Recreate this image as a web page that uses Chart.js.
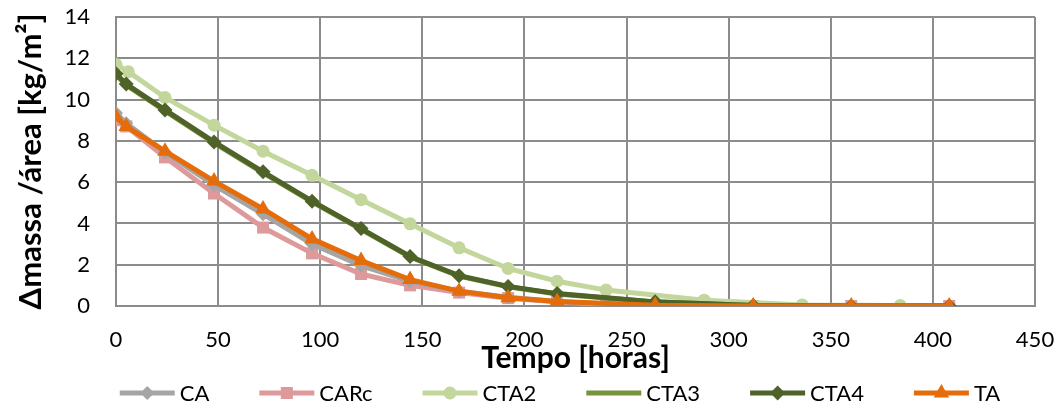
<!DOCTYPE html>
<html>
<head>
<meta charset="utf-8">
<script src="https://cdn.jsdelivr.net/npm/chart.js@4.4.1/dist/chart.umd.min.js"></script>
<style>
  html, body { margin: 0; padding: 0; background: #fff; }
  #wrap { width: 1062px; height: 416px; }
</style>
</head>
<body>
<div id="wrap"><canvas id="massChart" width="1062" height="416"></canvas></div>
<script>
// sampling times (hours) for each group of series
const horasCA = [0, 5, 24, 48, 72, 96, 120, 144, 168, 192, 216, 240, 264, 312, 360, 408];
const horasCTA2 = [0, 6, 24, 48, 72, 96, 120, 144, 168, 192, 216, 240, 288, 336, 384];
const horasCTA = [0, 5, 24, 48, 72, 96, 120, 144, 168, 192, 216, 264, 312, 360, 408];

// mass loss per area, kg/m2
const valCA = [9.35, 8.85, 7.45, 5.85, 4.45, 3.0, 1.95, 1.2, 0.72, 0.42, 0.22, 0.1, 0.04, 0, 0, 0];
const valCARc = [9.0, 8.7, 7.2, 5.45, 3.8, 2.55, 1.55, 1.0, 0.65, 0.38, 0.2, 0.08, 0.03, 0, 0, 0];
const valCTA2 = [11.7, 11.35, 10.1, 8.76, 7.5, 6.33, 5.15, 3.98, 2.82, 1.82, 1.2, 0.77, 0.28, 0.05, 0.02];
const valCTA3 = [11.2, 10.7, 9.45, 7.9, 6.45, 5.05, 3.72, 2.38, 1.45, 0.93, 0.58, 0.19, 0.02, 0, 0];
const valCTA4 = [11.25, 10.75, 9.5, 7.95, 6.5, 5.08, 3.75, 2.4, 1.47, 0.95, 0.6, 0.2, 0.02, 0, 0];
const valTA = [9.15, 8.7, 7.5, 6.05, 4.7, 3.25, 2.2, 1.28, 0.72, 0.4, 0.22, 0.04, 0, 0, 0];

const xTicks = [0, 50, 100, 150, 200, 250, 300, 350, 400, 450];
const yTicks = [0, 2, 4, 6, 8, 10, 12, 14];

const pts = (xs, ys) => xs.map((x, i) => ({ x: x, y: ys[i] }));

const FONT = 'Lato, "Open Sans", sans-serif';
const GRID = '#8c8c8c';

function serie(label, xs, ys, color, style, radius, order) {
    return {
        label: label,
        data: pts(xs, ys),
        borderColor: color,
        backgroundColor: color,
        pointBackgroundColor: color,
        pointBorderColor: color,
        pointBorderWidth: 0,
        pointStyle: style,
        pointRadius: radius,
        borderWidth: 5,
        tension: 0,
        order: order,
    };
}

const datasets = [
    serie('CA', horasCA, valCA, '#a5a5a5', 'rectRot', 7, 4),
    serie('CARc', horasCA, valCARc, '#de9a9a', 'rect', 8.5, 5),
    serie('CTA2', horasCTA2, valCTA2, '#c3d69b', 'circle', 6.5, 3),
    serie('CTA3', horasCTA, valCTA3, '#77933c', 'circle', 0, 2),
    serie('CTA4', horasCTA, valCTA4, '#4f6228', 'rectRot', 7.5, 1),
    serie('TA', horasCTA, valTA, '#e46c0a', 'triangle', 9, 0),
];

// legend row under the axis title: line + marker, then the name
const bottomLegend = {
    id: 'bottomLegend',
    afterDraw(chart) {
        const c = chart.ctx;
        const sw = 55, gapText = 5, gapItem = 50, y = 393;
        c.save();
        c.font = '22px ' + FONT;
        const items = chart.data.datasets.map(ds => ({ ds: ds, w: sw + gapText + c.measureText(ds.label).width }));
        const total = items.reduce((s, it) => s + it.w, 0) + gapItem * (items.length - 1);
        let x = 560 - total / 2;
        items.forEach(it => {
            const ds = it.ds;
            c.strokeStyle = ds.borderColor;
            c.lineWidth = 5;
            c.beginPath(); c.moveTo(x, y); c.lineTo(x + sw, y); c.stroke();
            if (ds.pointRadius > 0) {
                c.fillStyle = ds.borderColor;
                Chart.helpers.drawPoint(c, { pointStyle: ds.pointStyle, radius: ds.pointRadius, borderWidth: 0, rotation: 0 }, x + sw / 2, y);
            }
            c.fillStyle = '#000';
            c.textBaseline = 'middle';
            c.textAlign = 'left';
            c.fillText(ds.label, x + sw + gapText, y + 1);
            x += it.w + gapItem;
        });
        c.restore();
    },
};

// top and right edges of the plot frame
const frame = {
    id: 'frame',
    beforeDatasetsDraw(chart) {
        const a = chart.chartArea, c = chart.ctx;
        c.save();
        c.strokeStyle = GRID;
        c.lineWidth = 2;
        c.beginPath();
        c.moveTo(a.right, a.top); c.lineTo(a.right, a.bottom);
        c.moveTo(a.left, a.top); c.lineTo(a.right, a.top);
        c.stroke();
        c.restore();
    },
};

// no automatic room for overhanging tick labels
const noOverhang = s => { s.paddingTop = 0; s.paddingBottom = 0; s.paddingLeft = 0; s.paddingRight = 0; };

const ctx = document.getElementById('massChart').getContext('2d');
const massChart = new Chart(ctx, {
    type: 'line',
    data: { datasets: datasets },
    options: {
        responsive: false,
        animation: false,
        layout: { padding: { left: 10, right: 27, top: 17, bottom: 40 } },
        plugins: {
            tooltip: { enabled: false },
            legend: { display: false },
        },
        scales: {
            x: {
                type: 'linear',
                min: 0,
                max: 450,
                afterBuildTicks: s => { s.ticks = xTicks.map(v => ({ value: v })); },
                afterFit: s => { s.height = 70; noOverhang(s); },
                grid: { color: GRID, lineWidth: 2, drawTicks: false },
                border: { color: GRID, width: 2 },
                ticks: { color: '#000', padding: 21, autoSkip: false, maxRotation: 0, font: { family: FONT, size: 22 } },
                title: {
                    display: true,
                    text: 'Tempo [horas]',
                    color: '#000',
                    padding: { top: 0, bottom: 0 },
                    font: { family: FONT, size: 30, weight: 'bold' },
                },
            },
            y: {
                min: 0,
                max: 14,
                afterBuildTicks: s => { s.ticks = yTicks.map(v => ({ value: v })); },
                afterFit: s => { s.width = 106; noOverhang(s); },
                grid: { color: GRID, lineWidth: 2, drawTicks: false },
                border: { color: GRID, width: 2 },
                ticks: { color: '#000', padding: 26, autoSkip: false, font: { family: FONT, size: 22 } },
                title: {
                    display: true,
                    text: 'Δmassa /área [kg/m²]',
                    color: '#000',
                    padding: { top: 2, bottom: 0 },
                    font: { family: FONT, size: 31, weight: 'bold' },
                },
            },
        },
    },
    plugins: [frame, bottomLegend],
});
</script>
</body>
</html>
